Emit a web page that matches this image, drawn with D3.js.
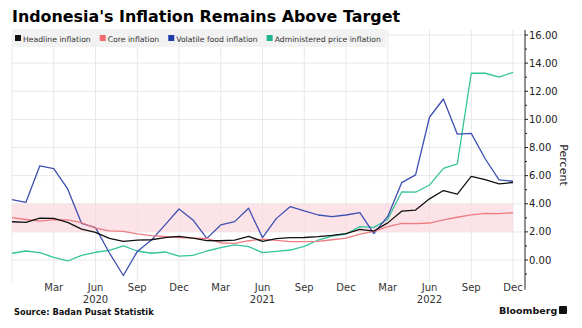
<!DOCTYPE html>
<html>
<head>
<meta charset="utf-8">
<script src="https://cdn.jsdelivr.net/npm/d3@7"></script>
<style>
  body { margin: 0; background: #fff; }
  svg { display: block; font-family: "DejaVu Sans", sans-serif; }
</style>
</head>
<body>
<script>
// monthly data, Dec 2019 .. Dec 2022
const startYear = 2019, startMonth = 11;
const headline = [2.72, 2.68, 2.98, 2.96, 2.67, 2.19, 1.96, 1.54, 1.32, 1.42, 1.44, 1.59, 1.68,
  1.55, 1.38, 1.37, 1.42, 1.68, 1.33, 1.52, 1.59, 1.60, 1.66, 1.75, 1.87,
  2.18, 2.06, 2.64, 3.47, 3.55, 4.35, 4.94, 4.69, 5.95, 5.71, 5.42, 5.51];
const core = [3.02, 2.88, 2.76, 2.87, 2.85, 2.65, 2.26, 2.07, 2.03, 1.86, 1.74, 1.67, 1.60,
  1.56, 1.53, 1.21, 1.18, 1.37, 1.49, 1.40, 1.31, 1.30, 1.33, 1.44, 1.56,
  1.84, 2.03, 2.37, 2.60, 2.58, 2.63, 2.86, 3.04, 3.21, 3.31, 3.30, 3.36];
const volatileFood = [4.3, 4.1, 6.7, 6.5, 5.05, 2.6, 2.3, 0.5, -1.1, 0.6, 1.4, 2.5, 3.63,
  2.85, 1.54, 2.49, 2.73, 3.68, 1.59, 2.96, 3.8, 3.5, 3.2, 3.08, 3.2,
  3.37, 1.88, 3.1, 5.5, 6.05, 10.15, 11.45, 8.95, 9.0, 7.2, 5.7, 5.6];
const administered = [0.48, 0.64, 0.52, 0.19, -0.07, 0.33, 0.55, 0.69, 1.0, 0.64, 0.48, 0.57, 0.28,
  0.33, 0.64, 0.88, 1.07, 0.95, 0.52, 0.62, 0.71, 0.97, 1.42, 1.7, 1.85,
  2.37, 2.32, 2.9, 4.84, 4.82, 5.33, 6.52, 6.83, 13.28, 13.28, 13.01, 13.34];

const seriesNames = ["Headline inflation", "Core inflation", "Volatile food inflation", "Administered price inflation"];
const seriesColors = ["#111111", "#ee7d80", "#3d4fb0", "#34c49c"];
const swatchColors = ["#111111", "#f26a6e", "#1e3ba8", "#21b48c"];
const targetBand = [2, 4];
const yTicks = [0, 2, 4, 6, 8, 10, 12, 14, 16];
const monthNames = ["Jan", "Feb", "Mar", "Apr", "May", "Jun", "Jul", "Aug", "Sep", "Oct", "Nov", "Dec"];

const width = 582, height = 328;
const svg = d3.select("body").append("svg").attr("width", width).attr("height", height);

const x = d3.scaleLinear().domain([0, headline.length - 1]).range([12, 513]);
const y = d3.scaleLinear().domain([0, 16]).range([260, 35]);
const plotTop = y(16.36), plotBottom = y(-1.4), axisX = 525;

// grid
const vIdx = d3.range(0, headline.length, 3);
svg.append("g").selectAll("line").data(vIdx).join("line")
  .attr("x1", d => x(d)).attr("x2", d => x(d))
  .attr("y1", plotTop).attr("y2", plotBottom + 3)
  .attr("stroke", "#e8e8e8").attr("stroke-width", 1);
svg.append("g").selectAll("line").data(yTicks).join("line")
  .attr("x1", x(0)).attr("x2", axisX)
  .attr("y1", d => y(d)).attr("y2", d => y(d))
  .attr("stroke", "#e8e8e8").attr("stroke-width", 1);

// target band
svg.append("rect")
  .attr("x", x(0)).attr("width", x(headline.length - 1) - x(0))
  .attr("y", y(targetBand[1])).attr("height", y(targetBand[0]) - y(targetBand[1]))
  .attr("fill", "#fbd9df").attr("fill-opacity", 0.75);

// legend background
const legend = svg.append("g");
legend.append("rect").attr("x", 12).attr("y", 29).attr("width", 374).attr("height", 18).attr("fill", "#f2f2f2");

// lines
const allSeries = [headline, core, volatileFood, administered];
const line = d3.line().x((d, i) => x(i)).y(d => y(d));
[3, 2, 1, 0].forEach(k => {
  svg.append("path").datum(allSeries[k])
    .attr("d", line).attr("fill", "none")
    .attr("stroke", seriesColors[k]).attr("stroke-width", 1.3)
    .attr("stroke-linejoin", "round");
});

// legend items
let lx = 15;
seriesNames.forEach((name, k) => {
  legend.append("rect").attr("x", lx).attr("y", 35).attr("width", 6).attr("height", 6).attr("fill", swatchColors[k]);
  const t = legend.append("text").attr("x", lx + 8).attr("y", 41.5)
    .attr("font-size", 7.7).attr("fill", "#333").text(name);
  lx += 8 + t.node().getComputedTextLength() + 9;
});

// y axis on right
const yAxis = svg.append("g");
yAxis.append("line").attr("x1", axisX).attr("x2", axisX).attr("y1", plotTop).attr("y2", plotBottom + 10)
  .attr("stroke", "#222").attr("stroke-width", 1);
yAxis.selectAll(".minor").data(d3.range(-1, 17)).join("line")
  .attr("x1", axisX).attr("x2", d => axisX + (d % 2 === 0 ? 3 : 2))
  .attr("y1", d => y(d)).attr("y2", d => y(d))
  .attr("stroke", "#222");
yAxis.selectAll("text").data(yTicks).join("text")
  .attr("x", axisX + 4).attr("y", d => y(d) + 3.6)
  .attr("font-size", 10).attr("fill", "#222")
  .text(d => d3.format(".2f")(d));
svg.append("text").attr("transform", `translate(560,165) rotate(90)`)
  .attr("text-anchor", "middle").attr("font-size", 11).attr("fill", "#222").text("Percent");

// x labels
const xLabels = svg.append("g");
vIdx.filter(i => i > 0).forEach(i => {
  const m = (startMonth + i) % 12;
  const yr = startYear + Math.floor((startMonth + i) / 12);
  xLabels.append("text").attr("x", x(i)).attr("y", 291).attr("text-anchor", "middle")
    .attr("font-size", 10).attr("fill", "#333").text(monthNames[m]);
  if (m === 5) {
    xLabels.append("text").attr("x", x(i)).attr("y", 303).attr("text-anchor", "middle")
      .attr("font-size", 10).attr("fill", "#333").text(yr);
  }
});

// title & footer
svg.append("text").attr("x", 12).attr("y", 22).attr("font-size", 15.9).attr("font-weight", "bold")
  .attr("fill", "#000").text("Indonesia's Inflation Remains Above Target");
svg.append("text").attr("x", 14).attr("y", 315).attr("font-size", 8.3).attr("font-weight", "bold")
  .attr("fill", "#111").text("Source: Badan Pusat Statistik");
svg.append("text").attr("x", 499).attr("y", 314).attr("font-size", 9.5).attr("font-weight", "bold")
  .attr("fill", "#111").text("Bloomberg");
svg.append("rect").attr("x", 559).attr("y", 306).attr("width", 8).attr("height", 8).attr("rx", 1).attr("fill", "#111");
</script>
</body>
</html>
